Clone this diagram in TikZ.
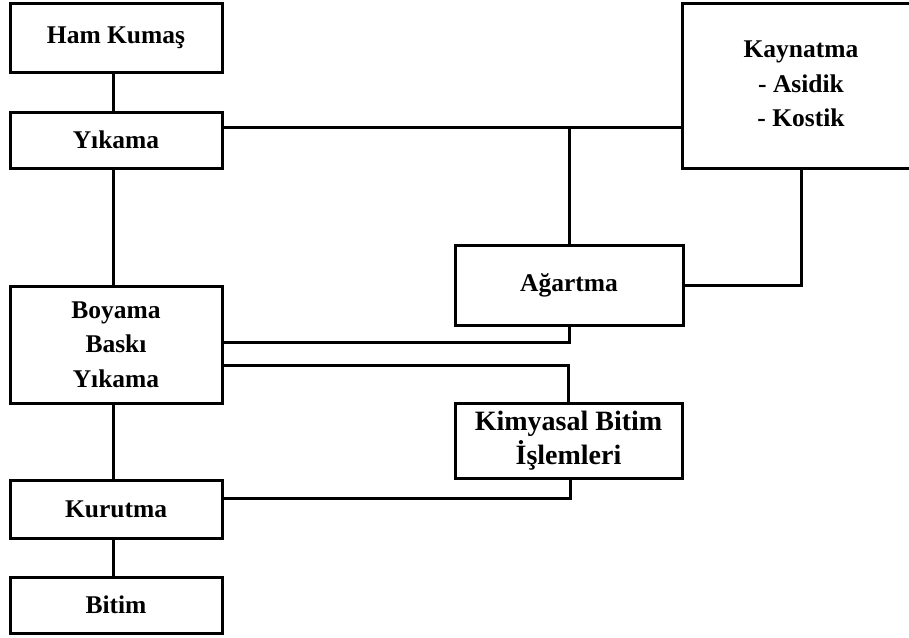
\documentclass[tikz,border=0pt]{standalone}
\usepackage{fontspec}
\setmainfont{Liberation Serif}
\begin{document}
\begin{tikzpicture}[x=1pt,y=-1pt,
  box/.style={draw=black,line width=3pt,rectangle,align=center,inner sep=0pt,
    font=\bfseries\fontsize{25.5}{34.5}\selectfont,fill=white},
  conn/.style={draw=black,line width=3pt}]
\useasboundingbox (0,0) rectangle (909,637);
\node[box,minimum width=212,minimum height=69] (ham) at (116,37.5) {Ham Kumaş};
\node[box,minimum width=212,minimum height=56] (yik) at (116,140) {Yıkama};
\node[box,minimum width=212,minimum height=117] (boy) at (116,344.5) {Boyama\\Baskı\\Yıkama};
\node[box,minimum width=212,minimum height=58] (kur) at (116,509) {Kurutma};
\node[box,minimum width=212,minimum height=56] (bit) at (116,605) {Bitim};
\node[box,minimum width=238,minimum height=165] (kay) at (801,85.5)
  {\raisebox{-4pt}{\begin{tabular}{@{}c@{}}Kaynatma\\- Asidik\\- Kostik\end{tabular}}};
\node[box,minimum width=228,minimum height=80] (aga) at (569,285) {Ağartma};
\node[box,minimum width=227,minimum height=75,font=\bfseries\fontsize{28}{34}\selectfont] (kim) at (568.5,440.5) {Kimyasal Bitim\\İşlemleri};
\coordinate (ya) at (0,127);
\coordinate (yb) at (0,342);
\coordinate (yc) at (0,365);
\coordinate (yd) at (0,498);
\draw[conn] ([xshift=-3]ham.south) -- ([xshift=-3]yik.north);
\draw[conn] ([xshift=-3]yik.south) -- ([xshift=-3]boy.north);
\draw[conn] ([xshift=-3]boy.south) -- ([xshift=-3]kur.north);
\draw[conn] ([xshift=-3]kur.south) -- ([xshift=-3]bit.north);
\draw[conn] (yik.east |- ya) -- (kay.west |- ya);
\draw[conn] (aga.north |- ya) -- (aga.north);
\draw[conn] (aga.east) -| (kay.south);
\draw[conn] (boy.east |- yb) -| (aga.south);
\draw[conn] (boy.east |- yc) -| (kim.north);
\draw[conn] (kur.east |- yd) -| ([xshift=1.5]kim.south);
\end{tikzpicture}
\end{document}
